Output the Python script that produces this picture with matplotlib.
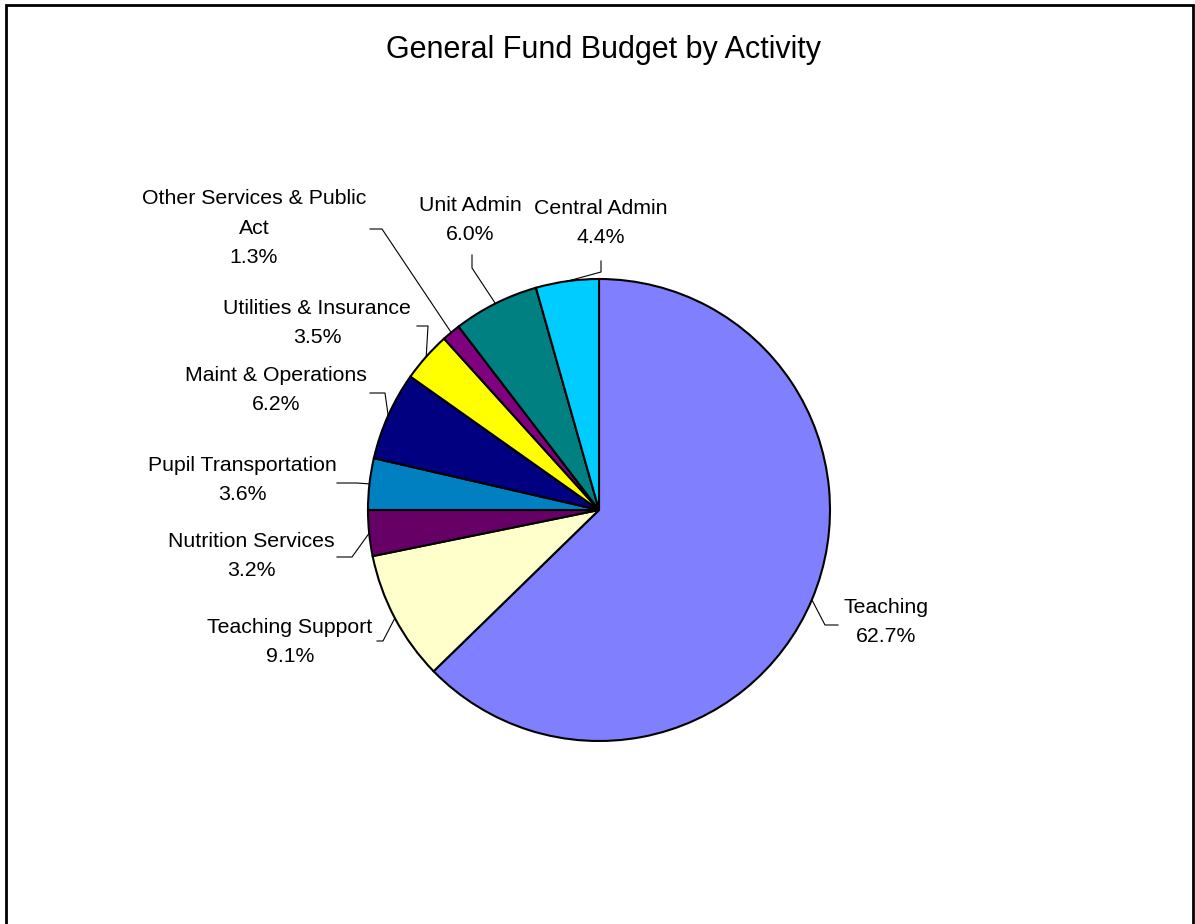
import matplotlib.pyplot as plt
import matplotlib.patches as mpatches
import numpy as np

plt.rcParams['font.family'] = ['Liberation Sans', 'DejaVu Sans']

# Data
activities = ['Teaching', 'Teaching Support', 'Nutrition Services', 'Pupil Transportation',
              'Maint & Operations', 'Utilities & Insurance', 'Other Services & Public\nAct',
              'Unit Admin', 'Central Admin']
shares = [62.7, 9.1, 3.2, 3.6, 6.2, 3.5, 1.3, 6.0, 4.4]
colors = ['#8080FF', '#FFFFCC', '#660066', '#0080C0', '#000080', '#FFFF00', '#800080',
          '#008080', '#00CCFF']

W, H = 1195, 924

def P(px, py):
    # pixel (top-left origin) -> data coords (bottom-left origin)
    return px, H - py

fig = plt.figure(figsize=(W / 100, H / 100), dpi=100)
ax = fig.add_axes([0, 0, 1, 1])

cx, cy = P(599, 510)
R = 231
wedges, _ = ax.pie(shares, colors=colors, startangle=90, counterclock=False,
                   center=(cx, cy), radius=R,
                   wedgeprops=dict(edgecolor='black', linewidth=1.5))
ax.set_xlim(0, W)
ax.set_ylim(0, H)
ax.set_aspect('equal')
ax.axis('off')

# label text centers and leader elbows (pixel coords)
label_pos = [(886, 622), (290, 642), (251, 556), (242, 480), (276, 390), (317, 323),
             (254, 228), (470, 220), (601, 223)]
leaders = [
    [(825, 625), (838, 625)],
    [(383, 641), (377, 641)],
    [(352, 557), (337, 557)],
    [(357, 483), (337, 483)],
    [(385, 393), (370, 393)],
    [(428, 326), (417, 326)],
    [(382, 229), (370, 229)],
    [(472, 268), (472, 255)],
    [(601, 272), (601, 261)],
]

cum = np.cumsum([0] + shares[:-1])
for i, (name, val) in enumerate(zip(activities, shares)):
    mid = 90 - (cum[i] + val / 2) / 100 * 360
    sx = cx + R * np.cos(np.radians(mid))
    sy = cy + R * np.sin(np.radians(mid))
    pts = [(sx, sy)] + [P(*p) for p in leaders[i]]
    xs, ys = zip(*pts)
    ax.plot(xs, ys, color='black', linewidth=0.8, zorder=0)
    tx, ty = P(*label_pos[i])
    ax.text(tx, ty, f'{name}\n{val:.1f}%', ha='center', va='center', fontsize=15.3,
            linespacing=1.7)

fig.text(604 / W, 1 - 50 / H, 'General Fund Budget by Activity', ha='center', va='center',
         fontsize=22)

# outer chart frame
frame = mpatches.Rectangle((6 / W, -0.05), (1193 - 6) / W, 0.05 + 1 - 5 / H,
                           transform=fig.transFigure, fill=False, edgecolor='black',
                           linewidth=2, clip_on=False)
fig.patches.append(frame)

fig.savefig('out.png', dpi=100, facecolor='white')
